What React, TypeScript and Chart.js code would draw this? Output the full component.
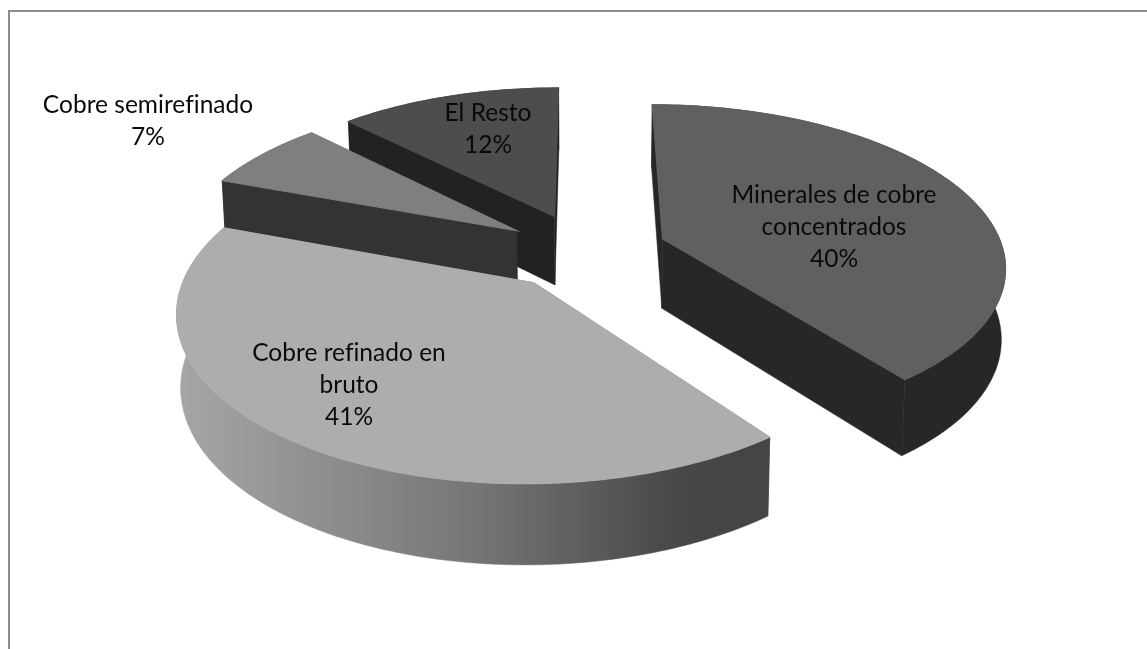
import React, { useEffect, useRef } from "react";
import { Chart, registerables } from "chart.js";

Chart.register(...registerables);

const categories = ["Minerales de cobre concentrados", "Cobre refinado en bruto", "Cobre semirefinado", "El Resto"];
const shares = [39.7, 40.9, 7.0, 12.4];
const labelLines = [
  ["Minerales de cobre", "concentrados"],
  ["Cobre refinado en", "bruto"],
  ["Cobre semirefinado"],
  ["El Resto"],
];
const topColors = ["#606060", "#adadad", "#7f7f7f", "#4d4d4d"];
const wallColors = ["#272727", "#4a4a4a", "#333333", "#222222"];

// Layout of the drawing (not data)
const labelCentres = [
  [834, 195],
  [349, 353],
  [148, 105],
  [488, 113],
];
const LINE_HEIGHT = 32;
const FONT = "24.5px Lato, sans-serif";
const PAINT_ORDER = [3, 2, 0, 1];
const EXPLODE = 0.243; // in radii
const RX = 1.358; // horizontal stretch of radius
const RY = 0.6315; // vertical squash of radius
const PERSP = 6.43;
const DEPTH = 70 / 251; // in radii
const DEPTH_PERSP = 0.7;
const BOTTOM_SHRINK = 0.99;

type P = [number, number];

const pie3d = {
  id: "pie3d",
  beforeDraw(chart: any) {
    const { ctx, width, height } = chart;
    ctx.save();
    ctx.fillStyle = "#ffffff";
    ctx.fillRect(0, 0, width, height);
    ctx.fillStyle = "#8c8c8c";
    ctx.fillRect(8, 10, width - 8, 2);
    ctx.fillRect(8, 10, 2, height - 10);
    ctx.restore();
  },
  beforeDatasetDraw(chart: any, args: any) {
    const { ctx } = chart;
    const arcs = args.meta.data;
    ctx.save();
    for (const i of PAINT_ORDER) {
      const arc = arcs[i];
      const r = arc.outerRadius;
      const cx = arc.x;
      const cy = arc.y;
      const a0 = arc.startAngle;
      const a1 = arc.endAngle;
      const mid = (a0 + a1) / 2;
      const ox = EXPLODE * Math.cos(mid);
      const oy = EXPLODE * Math.sin(mid); // canvas y: down positive
      const project = (px: number, py: number, low: boolean): P => {
        // py is plane y with down positive; nearer the viewer means bigger
        const s = PERSP / (PERSP - py);
        const x = px * r * RX * s * (low ? BOTTOM_SHRINK : 1);
        const y = py * r * RY * s + (low ? DEPTH * r * (1 + (s - 1) * DEPTH_PERSP) : 0);
        return [cx + x, cy + y];
      };
      const rim = (low: boolean): P[] => {
        const pts: P[] = [];
        const n = Math.max(8, Math.round(((a1 - a0) * 180) / Math.PI));
        for (let k = 0; k <= n; k++) {
          const t = a0 + ((a1 - a0) * k) / n;
          pts.push(project(ox + Math.cos(t), oy + Math.sin(t), low));
        }
        return pts;
      };
      const poly = (pts: P[], fill: any, lw = 0.5) => {
        ctx.beginPath();
        pts.forEach((p, k) => (k ? ctx.lineTo(p[0], p[1]) : ctx.moveTo(p[0], p[1])));
        ctx.closePath();
        ctx.fillStyle = fill;
        ctx.fill();
        ctx.strokeStyle = fill;
        ctx.lineWidth = lw;
        ctx.stroke();
      };
      const apexT = project(ox, oy, false);
      const apexB = project(ox, oy, true);
      const topRim = rim(false);
      const lowRim = rim(true);

      // radial walls
      poly([apexT, topRim[0], lowRim[0], apexB], wallColors[i]);
      poly([apexT, topRim[topRim.length - 1], lowRim[lowRim.length - 1], apexB], wallColors[i]);

      // outer wall
      let wallFill: any = wallColors[i];
      if (i === 1) {
        const g = ctx.createLinearGradient(177, 0, 768, 0);
        g.addColorStop(0, "#a6a6a6");
        g.addColorStop(0.5, "#767676");
        g.addColorStop(0.85, "#474747");
        g.addColorStop(1, "#444444");
        wallFill = g;
      }
      poly([...topRim, ...lowRim.slice().reverse()], wallFill);

      // top face
      poly([apexT, ...topRim], arc.options.backgroundColor, 1.2);
    }
    ctx.restore();
    return false;
  },
  afterDatasetsDraw(chart: any) {
    const { ctx } = chart;
    ctx.save();
    ctx.font = FONT;
    ctx.fillStyle = "#0a0a0a";
    ctx.textAlign = "center";
    ctx.textBaseline = "middle";
    (ctx as any).letterSpacing = "0.01px";
    labelLines.forEach((lines, i) => {
      const all = [...lines, `${Math.round(shares[i])}%`];
      all.forEach((t, k) => {
        ctx.fillText(t, labelCentres[i][0], labelCentres[i][1] + k * LINE_HEIGHT);
      });
    });
    ctx.restore();
  },
};

export default function App() {
  const ref = useRef<HTMLCanvasElement>(null);
  useEffect(() => {
    const chart = new Chart(ref.current as HTMLCanvasElement, {
      type: "pie",
      data: {
        labels: categories,
        datasets: [{ data: shares, backgroundColor: topColors, borderWidth: 0 }],
      },
      options: {
        animation: false,
        responsive: false,
        devicePixelRatio: 1,
        rotation: 0,
        layout: { padding: { left: 23, right: 0, top: 0, bottom: 147 } },
        plugins: { legend: { display: false }, tooltip: { enabled: false } },
      },
      plugins: [pie3d],
    } as any);
    return () => chart.destroy();
  }, []);
  return (
    <canvas
      ref={ref}
      width={1147}
      height={649}
      style={{ position: "fixed", left: 0, top: 0, width: 1147, height: 649, display: "block" }}
    />
  );
}
